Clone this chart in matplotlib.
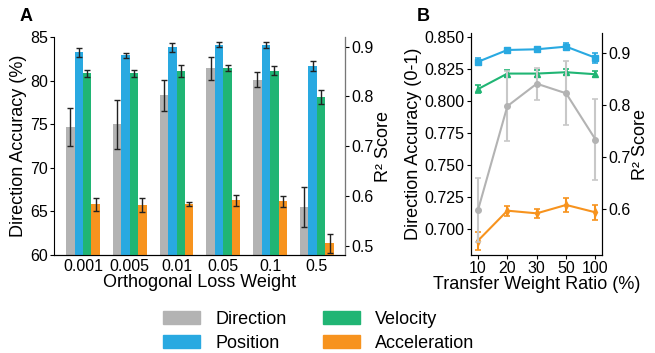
import numpy as np
import matplotlib
matplotlib.use("Agg")
import matplotlib.pyplot as plt
from matplotlib.patches import Patch

plt.rcParams['font.family'] = ['Liberation Sans', 'DejaVu Sans']

# colours
GRAY = '#b3b3b3'
BLUE = '#29a9e1'
GREEN = '#20b574'
ORANGE = '#f7931e'

# ---- panel A: orthogonal loss weight ----
loss_weights = ['0.001', '0.005', '0.01', '0.05', '0.1', '0.5']
dir_acc_a = [74.7, 75.0, 78.3, 81.4, 80.1, 65.5]
dir_err_a = [2.2, 2.8, 1.8, 1.3, 0.85, 2.25]
pos_r2_a = [0.889, 0.883, 0.899, 0.904, 0.904, 0.861]
pos_err_a = [0.009, 0.005, 0.009, 0.005, 0.006, 0.010]
vel_r2_a = [0.8465, 0.8465, 0.852, 0.8565, 0.852, 0.798]
vel_err_a = [0.007, 0.0065, 0.012, 0.006, 0.009, 0.014]
acc_r2_a = [0.5835, 0.581, 0.5835, 0.5915, 0.5895, 0.505]
acc_err_a = [0.013, 0.014, 0.0047, 0.0107, 0.0114, 0.019]

# ---- panel B: transfer weight ratio ----
ratios = ['10', '20', '30', '50', '100']
dir_acc_b = [0.715, 0.796, 0.8135, 0.806, 0.770]
dir_err_b = [0.025, 0.0275, 0.0126, 0.025, 0.0316]
pos_r2_b = [0.8826, 0.9052, 0.9065, 0.9116, 0.8903]
pos_err_b = [0.007, 0.003, 0.003, 0.006, 0.0097]
vel_r2_b = [0.8303, 0.860, 0.860, 0.8626, 0.8587]
vel_err_b = [0.0077, 0.0065, 0.006, 0.006, 0.006]
acc_r2_b = [0.540, 0.5974, 0.5923, 0.6084, 0.5942]
acc_err_b = [0.017, 0.0094, 0.008, 0.0135, 0.015]

fig = plt.figure(figsize=(6.55, 3.53), dpi=100)

LABEL_FS = 13
TICK_FS = 11.5

# panel A
ax = fig.add_axes([0.0824, 0.2776, 0.4443, 0.6176])
ax2 = ax.twinx()
x = np.arange(len(loss_weights))
w = 0.18
ekw = dict(ecolor='#222222', elinewidth=1.0, capsize=2, capthick=1.0)
ax.bar(x - 1.5 * w, dir_acc_a, w, yerr=dir_err_a, color=GRAY, error_kw=ekw, zorder=2)
ax2.bar(x - 0.5 * w, pos_r2_a, w, yerr=pos_err_a, color=BLUE, error_kw=ekw)
ax2.bar(x + 0.5 * w, vel_r2_a, w, yerr=vel_err_a, color=GREEN, error_kw=ekw)
ax2.bar(x + 1.5 * w, acc_r2_a, w, yerr=acc_err_a, color=ORANGE, error_kw=ekw)
ax.set_ylim(60, 85)
ax.set_yticks([60, 65, 70, 75, 80, 85])
ax2.set_ylim(0.4813, 0.9195)
ax2.set_yticks([0.5, 0.6, 0.7, 0.8, 0.9])
ax.set_xlim(-0.62, 5.6)
ax.set_xticks(x)
ax.set_xticklabels(loss_weights)
ax.set_xlabel('Orthogonal Loss Weight', fontsize=LABEL_FS, labelpad=0)
ax.set_ylabel('Direction Accuracy (%)', fontsize=LABEL_FS, labelpad=2)
ax2.set_ylabel('R² Score', fontsize=LABEL_FS, labelpad=1)
for a in (ax, ax2):
    a.spines['top'].set_visible(False)
    a.tick_params(labelsize=TICK_FS, length=3, width=0.8, pad=1.5)
ax2.spines['right'].set_color('#777777')
ax2.spines['left'].set_visible(False)
ax.tick_params(axis='x', length=0, pad=3)
fig.text(0.03, 0.94, 'A', fontsize=13, fontweight='bold')

# panel B
bx = fig.add_axes([0.719, 0.2776, 0.2, 0.6289])
bx2 = bx.twinx()
xb = np.arange(len(ratios))
lkw = dict(linewidth=1.5, markersize=4, capsize=2.5, elinewidth=1.5, capthick=1.2)
bx.errorbar(xb, dir_acc_b, yerr=dir_err_b, color=GRAY, marker='o', ecolor='#c8c8c8', zorder=1, **lkw)
bx2.errorbar(xb, pos_r2_b, yerr=pos_err_b, color=BLUE, marker='s', **lkw)
bx2.errorbar(xb, vel_r2_b, yerr=vel_err_b, color=GREEN, marker='^', **lkw)
bx2.errorbar(xb, acc_r2_b, yerr=acc_err_b, color=ORANGE, marker='d', **lkw)
bx.set_ylim(0.68, 0.853)
bx.set_yticks([0.700, 0.725, 0.750, 0.775, 0.800, 0.825, 0.850])
bx.set_yticklabels(['0.700', '0.725', '0.750', '0.775', '0.800', '0.825', '0.850'])
bx2.set_ylim(0.5125, 0.9377)
bx2.set_yticks([0.6, 0.7, 0.8, 0.9])
bx.set_xlim(-0.24, 4.22)
bx.set_xticks(xb)
bx.set_xticklabels(ratios)
bx.set_xlabel('Transfer Weight Ratio (%)', fontsize=LABEL_FS, labelpad=0)
bx.set_ylabel('Direction Accuracy (0-1)', fontsize=LABEL_FS, labelpad=2)
bx2.set_ylabel('R² Score', fontsize=LABEL_FS, labelpad=1)
for a in (bx, bx2):
    a.spines['top'].set_visible(False)
    a.tick_params(labelsize=TICK_FS, length=3, width=0.8, pad=1.5)
bx.set_zorder(bx2.get_zorder() + 1)
bx.patch.set_visible(False)
fig.text(0.637, 0.94, 'B', fontsize=13, fontweight='bold')

handles = [Patch(color=GRAY, label='Direction'),
           Patch(color=BLUE, label='Position'),
           Patch(color=GREEN, label='Velocity'),
           Patch(color=ORANGE, label='Acceleration')]
fig.legend(handles=handles, ncol=2, loc='center', bbox_to_anchor=(0.487, 0.062),
           frameon=False, fontsize=LABEL_FS, handlelength=2.05, handleheight=0.75,
           handletextpad=0.85, columnspacing=2.0, labelspacing=0.4)

fig.savefig('out.png', dpi=100)
